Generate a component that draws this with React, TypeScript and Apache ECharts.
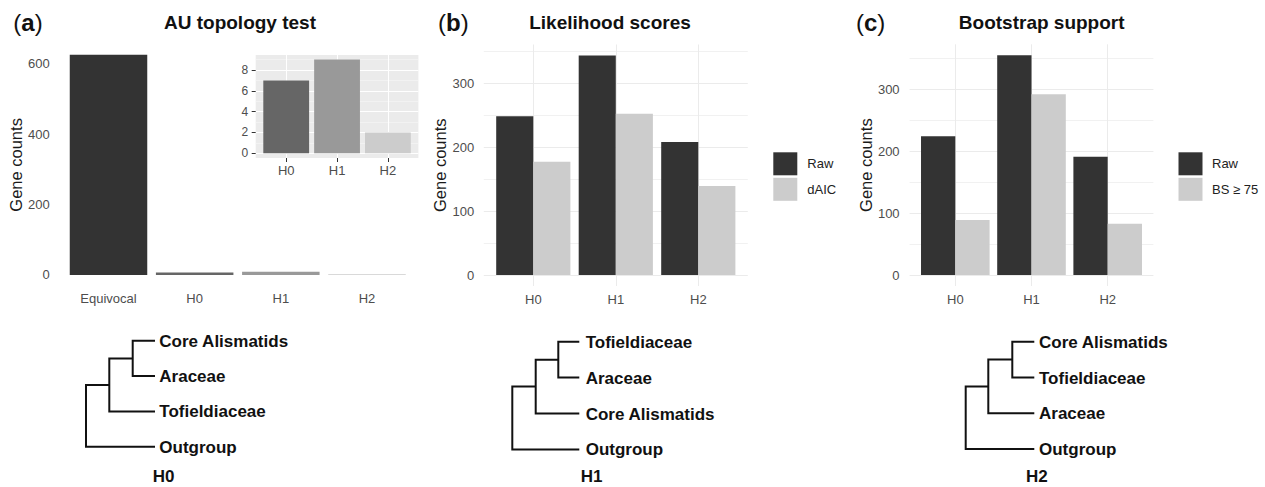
import React, { useEffect, useRef } from 'react';
import * as echarts from 'echarts';

// ---------- data ----------
const auCategories = ['Equivocal', 'H0', 'H1', 'H2'];
const auCounts = [626, 7, 9, 2];
const auColors = ['#333333', '#666666', '#999999', '#cccccc'];
const auTicks = [0, 200, 400, 600];

const insetCategories = ['H0', 'H1', 'H2'];
const insetCounts = [7, 9, 2];
const insetColors = ['#666666', '#999999', '#cccccc'];
const insetTicks = [0, 2, 4, 6, 8];
const insetMinorTicks = [1, 3, 5, 7, 9];

const hypotheses = ['H0', 'H1', 'H2'];
const likelihoodRaw = [248, 343, 208];
const likelihoodDAIC = [177, 252, 139];
const bootstrapRaw = [224, 355, 191];
const bootstrapBS75 = [89, 292, 83];
const countTicks = [0, 100, 200, 300];
const countMinorTicks = [50, 150, 250, 350];

const treeH0 = ['Core Alismatids', 'Araceae', 'Tofieldiaceae', 'Outgroup'];
const treeH1 = ['Tofieldiaceae', 'Araceae', 'Core Alismatids', 'Outgroup'];
const treeH2 = ['Core Alismatids', 'Tofieldiaceae', 'Araceae', 'Outgroup'];

// ---------- styling ----------
const FONT = '"Liberation Sans", Arial, Helvetica, sans-serif';
const TICK_COLOR = '#4d4d4d';
const DARK = '#333333';
const LIGHT = '#cccccc';

const expand = (maxVal: number) => [-0.05 * maxVal, 1.05 * maxVal];
const idx = (arr: any[]) => arr.map((_, i) => i);

function xAxisFor(gridIndex: number, cats: string[], o: any) {
  return {
    type: 'value',
    gridIndex,
    min: -0.6,
    max: cats.length - 1 + 0.6,
    axisLine: { show: false, onZero: false },
    axisTick: {
      show: !!o.ticks,
      customValues: idx(cats),
      length: 4,
      lineStyle: { color: '#333', width: 1 },
    },
    axisLabel: {
      customValues: idx(cats),
      formatter: (v: number) => cats[Math.round(v)],
      margin: o.margin,
      fontSize: 13,
      color: TICK_COLOR,
      fontFamily: FONT,
    },
    splitLine: o.split
      ? { show: true, lineStyle: o.split }
      : { show: false },
  };
}

function yAxisFor(gridIndex: number, range: number[], ticks: number[], o: any) {
  return {
    type: 'value',
    gridIndex,
    min: range[0],
    max: range[1],
    axisLine: { show: false, onZero: false },
    axisTick: {
      show: !!o.ticks,
      customValues: ticks,
      length: 4,
      lineStyle: { color: '#333', width: 1 },
    },
    axisLabel: o.labels === false
      ? { show: false }
      : {
          customValues: ticks,
          margin: o.margin,
          fontSize: o.fontSize || 13,
          color: TICK_COLOR,
          fontFamily: FONT,
        },
    splitLine: o.split ? { show: true, lineStyle: o.split } : { show: false },
    name: o.name,
    nameLocation: 'middle',
    nameGap: o.nameGap,
    nameTextStyle: { fontSize: 16.5, color: '#1a1a1a', fontFamily: FONT },
    position: o.position || 'left',
  };
}

function treeGraphic(tips: string[], L: any) {
  const ys = tips.map((_, i) => L.y0 + i * L.spacing);
  const yN2 = (ys[0] + ys[1]) / 2;
  const yN1 = (yN2 + ys[2]) / 2;
  const line = { stroke: '#111', lineWidth: 2, fill: 'none' };
  const els: any[] = [
    { type: 'polyline', shape: { points: [[L.tip, ys[0]], [L.n2, ys[0]], [L.n2, ys[1]], [L.tip, ys[1]]] }, style: line },
    { type: 'polyline', shape: { points: [[L.n2, yN2], [L.n1, yN2], [L.n1, ys[2]], [L.tip, ys[2]]] }, style: line },
    { type: 'polyline', shape: { points: [[L.n1, yN1], [L.root, yN1], [L.root, ys[3]], [L.tip, ys[3]]] }, style: line },
  ];
  tips.forEach((t, i) => {
    els.push({
      type: 'text', x: L.label, y: ys[i] + 0.5,
      style: { text: t, fontSize: 17, fontWeight: 'bold', fontFamily: FONT, fill: '#111', align: 'left', verticalAlign: 'middle' },
    });
  });
  els.push({
    type: 'text', x: L.hx, y: 476.7,
    style: { text: L.h, fontSize: 17, fontWeight: 'bold', fontFamily: FONT, fill: '#111', align: 'left', verticalAlign: 'middle' },
  });
  return els;
}

function panelLetter(letter: string, x: number) {
  return {
    type: 'text', x, y: 22.5,
    style: {
      text: `{p|(}{b|${letter}}{p|)}`,
      fontFamily: FONT,
      fill: '#111',
      align: 'left',
      verticalAlign: 'middle',
      rich: {
        p: { fontSize: 24, fontWeight: 'normal', fontFamily: FONT, fill: '#111' },
        b: { fontSize: 24, fontWeight: 'bold', fontFamily: FONT, fill: '#111' },
      },
    },
  };
}

function panelTitle(text: string, cx: number) {
  return {
    type: 'text', x: cx, y: 22,
    style: { text, fontSize: 19, fontWeight: 'bold', fontFamily: FONT, fill: '#111', align: 'center', verticalAlign: 'middle' },
  };
}

export default function App() {
  const ref = useRef<HTMLDivElement>(null);

  useEffect(() => {
    document.body.style.margin = '0';
    if (!ref.current) return;
    const chart = echarts.init(ref.current, undefined, { renderer: 'svg' });

    const majorGrey = { color: '#ebebeb', width: 1 };
    const minorGrey = { color: '#f1f1f1', width: 1 };

    const option: any = {
      animation: false,
      textStyle: { fontFamily: FONT },
      grid: [
        { left: 56.8, top: 43.8, width: 361.9, height: 242.2, containLabel: false, outerBoundsMode: 'none' },
        { left: 255.7, top: 54.9, width: 162.7, height: 103.1, show: true, backgroundColor: '#ebebeb', borderWidth: 0, containLabel: false, outerBoundsMode: 'none' },
        { left: 483.8, top: 44.5, width: 264, height: 241.5, containLabel: false, outerBoundsMode: 'none' },
        { left: 909.6, top: 44.3, width: 243.8, height: 241.7, containLabel: false, outerBoundsMode: 'none' },
      ],
      xAxis: [
        xAxisFor(0, auCategories, { margin: 6 }),
        xAxisFor(1, insetCategories, { margin: 6, ticks: true, split: { color: '#ffffff', width: 1.1 } }),
        xAxisFor(2, hypotheses, { margin: 7, split: majorGrey }),
        xAxisFor(3, hypotheses, { margin: 7, split: majorGrey }),
      ],
      yAxis: [
        yAxisFor(0, expand(Math.max(...auCounts)), auTicks, { margin: 7, name: 'Gene counts', nameGap: 29 }),
        yAxisFor(1, expand(Math.max(...insetCounts)), insetTicks, { margin: 7.5, ticks: true, fontSize: 12, split: { color: '#ffffff', width: 1.1 } }),
        yAxisFor(1, expand(Math.max(...insetCounts)), insetMinorTicks, { labels: false, split: { color: '#f6f6f6', width: 0.6 }, position: 'right' }),
        yAxisFor(2, expand(Math.max(...likelihoodRaw, ...likelihoodDAIC)), countTicks, { margin: 9.5, name: 'Gene counts', nameGap: 31, split: majorGrey }),
        yAxisFor(2, expand(Math.max(...likelihoodRaw, ...likelihoodDAIC)), countMinorTicks, { labels: false, split: minorGrey, position: 'right' }),
        yAxisFor(3, expand(Math.max(...bootstrapRaw, ...bootstrapBS75)), countTicks, { margin: 10, name: 'Gene counts', nameGap: 28, split: majorGrey }),
        yAxisFor(3, expand(Math.max(...bootstrapRaw, ...bootstrapBS75)), countMinorTicks, { labels: false, split: minorGrey, position: 'right' }),
      ],
      legend: [
        {
          data: ['Raw', 'dAIC'], orient: 'vertical', left: 773.3, top: 152.3,
          itemWidth: 24, itemHeight: 23, itemGap: 2.5, icon: 'rect', padding: 0,
          selectedMode: false,
          textStyle: { fontSize: 13, color: '#222', fontFamily: FONT, padding: [0, 0, 0, 5] },
        },
        {
          data: ['Raw', 'BS ≥ 75'], orient: 'vertical', left: 1178.5, top: 152.3,
          itemWidth: 24, itemHeight: 23, itemGap: 2.5, icon: 'rect', padding: 0,
          selectedMode: false,
          textStyle: { fontSize: 13, color: '#222', fontFamily: FONT, padding: [0, 0, 0, 4.5] },
        },
      ],
      series: [
        {
          type: 'bar', name: 'AU', xAxisIndex: 0, yAxisIndex: 0, barWidth: 77.5,
          data: auCounts.map((v, i) => ({ value: [i, v], itemStyle: { color: auColors[i] } })),
        },
        {
          type: 'bar', name: 'AU inset', xAxisIndex: 1, yAxisIndex: 1, barWidth: 45.8,
          data: insetCounts.map((v, i) => ({ value: [i, v], itemStyle: { color: insetColors[i] } })),
        },
        {
          type: 'bar', name: 'Raw', xAxisIndex: 2, yAxisIndex: 3, barWidth: 37.1, barGap: '0%',
          itemStyle: { color: DARK },
          data: likelihoodRaw.map((v, i) => [i, v]),
        },
        {
          type: 'bar', name: 'dAIC', xAxisIndex: 2, yAxisIndex: 3, barWidth: 37.1, barGap: '0%',
          itemStyle: { color: LIGHT },
          data: likelihoodDAIC.map((v, i) => [i, v]),
        },
        {
          type: 'bar', name: 'Raw', xAxisIndex: 3, yAxisIndex: 5, barWidth: 34.3, barGap: '0%',
          itemStyle: { color: DARK },
          data: bootstrapRaw.map((v, i) => [i, v]),
        },
        {
          type: 'bar', name: 'BS ≥ 75', xAxisIndex: 3, yAxisIndex: 5, barWidth: 34.3, barGap: '0%',
          itemStyle: { color: LIGHT },
          data: bootstrapBS75.map((v, i) => [i, v]),
        },
      ],
      graphic: [
        panelLetter('a', 13.3),
        panelLetter('b', 438),
        panelLetter('c', 856),
        panelTitle('AU topology test', 240),
        panelTitle('Likelihood scores', 610),
        panelTitle('Bootstrap support', 1041.7),
        ...treeGraphic(treeH0, { root: 86, n1: 109.3, n2: 132.7, tip: 155, label: 159.3, y0: 340.8, spacing: 35.3, h: 'H0', hx: 152.7 }),
        ...treeGraphic(treeH1, { root: 512.3, n1: 535.7, n2: 558.3, tip: 579.3, label: 585.7, y0: 341.7, spacing: 35.9, h: 'H1', hx: 580.7 }),
        ...treeGraphic(treeH2, { root: 965.7, n1: 988.3, n2: 1012.3, tip: 1034.3, label: 1039, y0: 341.7, spacing: 35.8, h: 'H2', hx: 1026 }),
      ],
    };

    chart.setOption(option);
    return () => chart.dispose();
  }, []);

  return <div ref={ref} style={{ width: 1265, height: 487 }} />;
}
